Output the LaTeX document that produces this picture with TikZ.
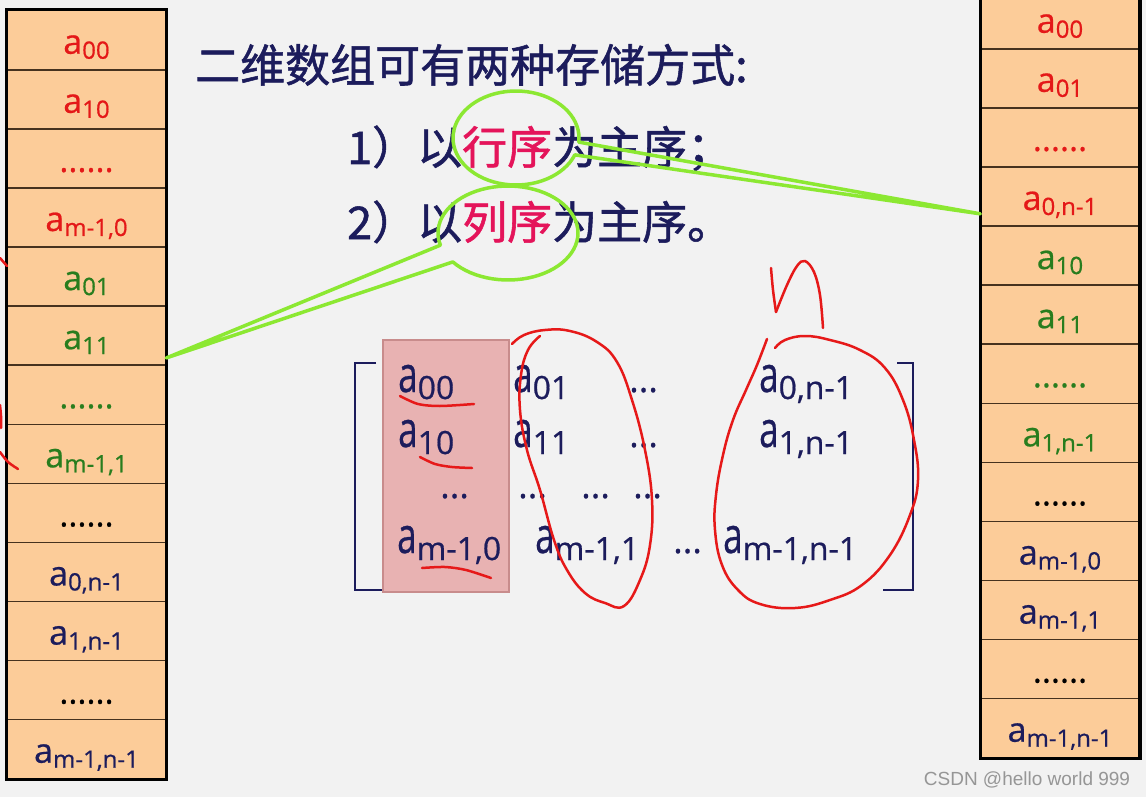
\documentclass[tikz,border=0pt]{standalone}
\usepackage{fontspec}
\usepackage{graphicx}
\usetikzlibrary{calc}
\setmainfont{Open Sans}[FakeBold=0.6]
\newfontfamily\cjk{Noto Sans CJK SC}[FakeBold=1.2]
\newfontfamily\wmfont{Liberation Sans}

\definecolor{bg}{RGB}{242,242,242}
\definecolor{cellfill}{RGB}{252,204,153}
\definecolor{cellline}{RGB}{70,50,30}
\definecolor{rowred}{RGB}{228,24,24}
\definecolor{colgreen}{RGB}{40,125,30}
\definecolor{navy}{RGB}{28,28,92}
\definecolor{ordpink}{RGB}{228,20,90}
\definecolor{lime}{RGB}{140,232,50}
\definecolor{penred}{RGB}{230,25,25}
\definecolor{hilite}{RGB}{232,178,178}
\definecolor{hiliteline}{RGB}{200,140,140}
\definecolor{wmgray}{RGB}{150,150,150}

\newcommand\elem[1]{a\raisebox{-5pt}{\fontsize{24}{24}\selectfont #1}}
\newcommand\melem[1]{\scalebox{0.7}[1]{\fontsize{50}{50}\selectfont a}\raisebox{-7pt}{\fontsize{32}{32}\selectfont #1}}
\newcommand\six{......}

\tikzset{
    cellbox/.style={draw=cellline, line width=1.5pt, fill=cellfill, minimum width=158pt,
        inner xsep=0pt, inner ysep=0pt, text height=43pt, text depth=16.08pt,
        anchor=north, font=\fontsize{34}{34}\selectfont},
    entry/.style={anchor=base west, inner sep=0pt, text=navy},
    dotsentry/.style={entry, font=\fontsize{36}{36}\selectfont},
    cjktext/.style={anchor=base west, inner sep=0pt, text=navy, font=\cjk\fontsize{45}{45}\selectfont},
    callout/.style={draw=lime, line width=3.5pt, line join=round},
    pen/.style={draw=penred, line width=2.5pt, line cap=round, line join=round},
}

\begin{document}
\begin{tikzpicture}[x=1pt, y=-1pt]
    \useasboundingbox (0,0) rectangle (1146,797);
    \fill[bg] (0,0) rectangle (1146,797);
    \clip (0,0) rectangle (1146,797);

    % column major
    \foreach \col/\txt [count=\i] in {rowred/\elem{00}, rowred/\elem{10}, rowred/\six, rowred/\elem{m-1,0},
        colgreen/\elem{01}, colgreen/\elem{11}, colgreen/\six, colgreen/\elem{m-1,1},
        black/\six, navy/\elem{0,n-1}, navy/\elem{1,n-1}, black/\six, navy/\elem{m-1,n-1}}
        \node[cellbox, text=\col] (L\i) at (86.5,{10+(\i-1)*59.08}) {\txt};
    \draw[line width=3pt] (L1.north west) rectangle (L13.south east);

    % row major
    \foreach \col/\txt [count=\i] in {rowred/\elem{00}, rowred/\elem{01}, rowred/\six, rowred/\elem{0,n-1},
        colgreen/\elem{10}, colgreen/\elem{11}, colgreen/\six, colgreen/\elem{1,n-1},
        black/\six, navy/\elem{m-1,0}, navy/\elem{m-1,1}, black/\six, navy/\elem{m-1,n-1}}
        \node[cellbox, text=\col] (R\i) at (1060,{-11+(\i-1)*59.08}) {\txt};
    \draw[line width=3.5pt] (R1.north west) rectangle (R13.south east);

    \node[cjktext] (title) at (195,82) {二维数组可有两种存储方式:};
    \node[cjktext] (rowmaj) at (347,164) {1）以\textcolor{ordpink}{行序}为主序；};
    \node[cjktext] (colmaj) at (347,239) {2）以\textcolor{ordpink}{列序}为主序。};

    % matrix
    \draw[navy, line width=2pt] (376,363) -- (355,363) -- (355,590) -- (383,590);
    \draw[navy, line width=2pt] (897,363) -- (913,363) -- (913,590) -- (883,590);
    \filldraw[fill=hilite, draw=hiliteline, line width=1.5pt] (383,340) rectangle (509,592);

    \node[entry] (m00) at (398,392) {\melem{00}};
    \node[entry] (m01) at (513,392) {\melem{01}};
    \node[dotsentry] (d0) at (629,392) {...};
    \node[entry] (m0n) at (759,392) {\melem{0,n-1}};
    \node[entry] (m10) at (398,447) {\melem{10}};
    \node[entry] (m11) at (513,447) {\melem{11}};
    \node[dotsentry] (d1) at (629,447) {...};
    \node[entry] (m1n) at (759,447) {\melem{1,n-1}};
    \node[dotsentry] (dA) at (440,498) {...};
    \node[dotsentry] (dB) at (518,498) {...};
    \node[dotsentry] (dC) at (581,498) {...};
    \node[dotsentry] (dD) at (633,498) {...};
    \node[entry] (mm0) at (397,553) {\melem{m-1,0}};
    \node[entry] (mm1) at (535,553) {\melem{m-1,1}};
    \node[dotsentry] (dm) at (673,553) {...};
    \node[entry] (mmn) at (723,553) {\melem{m-1,n-1}};

    % callouts
    \coordinate (rtip) at ($(R4.south west)+(0,-13)$);
    \coordinate (ltip) at ($(L6.south east)+(0,-8)$);
    \draw[callout] plot[domain=21:365, samples=70] ({516+63*cos(\x)},{138+47*sin(\x)}) -- (rtip) -- cycle;
    \draw[callout] plot[domain=165:502, samples=70] ({508+70*cos(\x)},{233+47*sin(\x)}) -- (ltip) -- cycle;

    % pen marks
    \draw[pen] plot[smooth, tension=0.7] coordinates {(512,344) (524,335) (545,330) (570,331) (597,342)
        (617,362) (632,400) (645,450) (652,500) (650,545) (640,580) (624,606) (605,603) (585,593)
        (567,570) (554,540) (540,490) (527,450) (520,410) (521,375) (528,350) (540,336)};
    \draw[pen] plot[smooth, tension=0.7] coordinates {(767,339) (757,365) (746,390) (733,420) (723,455)
        (716,495) (715,530) (722,565) (738,590) (760,604) (795,608) (830,600) (862,585) (890,555)
        (910,515) (918,480) (914,440) (903,400) (885,368) (860,350) (830,340) (805,336) (785,340) (775,348)};
    \draw[pen] plot[smooth, tension=0.6] coordinates {(771,268) (773,290) (776,312)};
    \draw[pen] plot[smooth, tension=0.6] coordinates {(776,312) (787,285) (797,266) (805,261) (814,272)
        (820,295) (823,328)};
    \draw[pen] plot[smooth] coordinates {(400,396) (418,404) (440,406) (474,404)};
    \draw[pen] plot[smooth] coordinates {(420,457) (435,464) (452,467) (472,468)};
    \draw[pen] plot[smooth] coordinates {(422,568) (445,567) (466,570) (491,578)};
    \draw[pen] (0,258) -- (7,266);
    \draw[pen] plot[smooth] coordinates {(0,405) (1,416) (1,428)};
    \draw[pen] plot[smooth] coordinates {(0,452) (8,462) (18,469)};

    \node[font=\wmfont\fontsize{19}{19}\selectfont, text=wmgray] (mark) at (1027,780) {CSDN @hello world 999};
\end{tikzpicture}
\end{document}
